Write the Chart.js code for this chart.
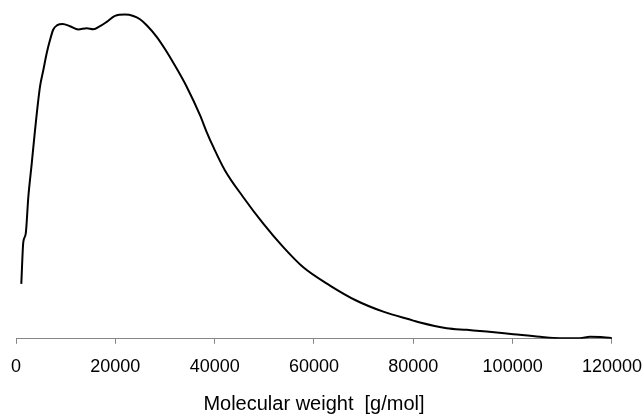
<!DOCTYPE html>
<html>
<head>
<meta charset="utf-8">
<script src="https://cdn.jsdelivr.net/npm/chart.js@4/dist/chart.umd.min.js"></script>
<style>
  html, body { margin: 0; padding: 0; background: #ffffff; }
  #wrap { width: 644px; height: 414px; position: relative; }
</style>
</head>
<body>
<div id="wrap"><canvas id="c" width="644" height="414"></canvas></div>
<script>
// Molecular weight (g/mol) sampled along the curve
const molecularWeight = [1067, 1470, 1953, 2477, 3161, 3826, 4832, 5497, 6181, 6846, 7510, 8315, 9403, 10872, 12544, 14235, 15564, 16913, 18262, 19933, 21946, 23618, 24966, 26315, 28329, 30342, 32355, 34369, 37047, 38395, 39725, 42081, 45765, 49792, 53819, 57846, 63221, 68597, 73953, 79993, 81342, 86718, 90745, 94772, 100128, 105503, 109530, 113557, 115570, 118248, 120000];
// Relative distribution value (arbitrary units, 0-100)
const distribution = [16.6, 29.2, 31.7, 42.8, 52.9, 63.0, 76.2, 81.2, 86.3, 90.3, 93.5, 94.8, 95.2, 94.5, 93.5, 93.9, 93.6, 94.5, 95.8, 97.6, 98.0, 97.6, 96.6, 94.8, 91.3, 86.8, 81.7, 76.2, 67.6, 62.5, 58.0, 50.9, 42.8, 34.8, 27.7, 21.6, 16.1, 11.5, 8.2, 5.5, 4.9, 3.2, 2.7, 2.2, 1.4, 0.6, 0.2, 0.2, 0.6, 0.5, 0.2];
const xTickMin = 0;
const xTickMax = 120000;
const xTickStep = 20000;
const xTitle = 'Molecular weight  [g/mol]';

const points = molecularWeight.map((x, i) => ({ x: x, y: distribution[i] }));
const fontFamily = "'Liberation Sans', Arial, sans-serif";

new Chart(document.getElementById('c'), {
  type: 'line',
  data: {
    datasets: [{
      data: points,
      borderColor: '#000000',
      borderWidth: 2,
      pointRadius: 0,
      fill: false,
      cubicInterpolationMode: 'monotone'
    }]
  },
  options: {
    responsive: false,
    animation: false,
    devicePixelRatio: 1,
    layout: { padding: { left: 16, right: 27, top: 8, bottom: 0 } },
    plugins: { legend: { display: false }, tooltip: { enabled: false } },
    scales: {
      x: {
        type: 'linear',
        min: xTickMin,
        max: xTickMax,
        ticks: {
          stepSize: xTickStep,
          color: '#000000',
          padding: 2,
          maxRotation: 0,
          font: { family: fontFamily, size: 18, lineHeight: 2.4 },
          callback: (v) => String(v)
        },
        grid: {
          drawOnChartArea: false,
          drawTicks: true,
          tickLength: 5,
          color: '#868686',
          lineWidth: 1
        },
        border: { display: true, color: '#868686', width: 1 },
        title: {
          display: true,
          text: xTitle,
          color: '#000000',
          font: { family: fontFamily, size: 20, lineHeight: 1 },
          padding: { top: 3, bottom: 0 }
        }
      },
      y: {
        display: false,
        min: 0,
        max: 100
      }
    }
  }
});
</script>
</body>
</html>
